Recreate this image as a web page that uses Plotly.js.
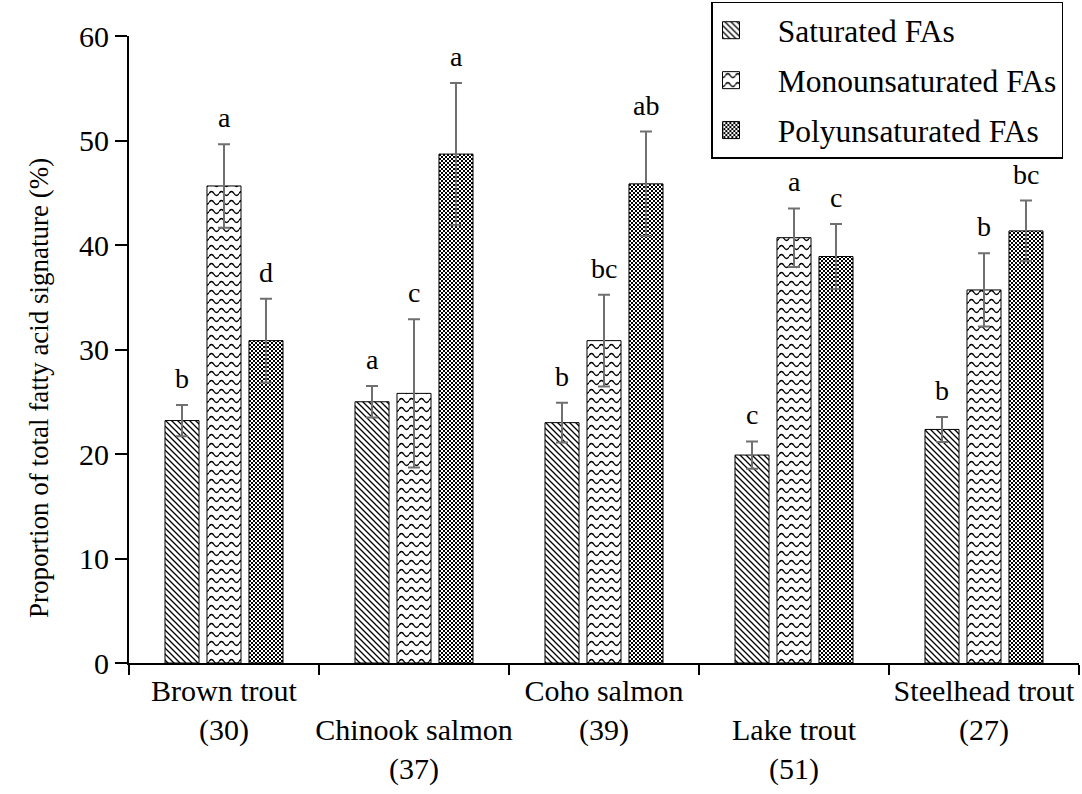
<!DOCTYPE html>
<html><head><meta charset="utf-8">
<script src="https://cdn.plot.ly/plotly-3.0.1.min.js"></script>
<style>body{margin:0;background:#fff}#c{width:1082px;height:794px}</style>
</head><body><div id="c"></div>
<script>
var categories = ["Brown trout", "Chinook salmon", "Coho salmon", "Lake trout", "Steelhead trout"];
var tickLabels = ["Brown trout<br>(30)", "<br>Chinook salmon<br>(37)", "Coho salmon<br>(39)", "<br>Lake trout<br>(51)", "Steelhead trout<br>(27)"];
var seriesNames = ["Saturated FAs", "Monounsaturated FAs", "Polyunsaturated FAs"];
var yTitle = "Proportion of total fatty acid signature (%)";
var saturated = [23.2, 25.0, 23.0, 19.9, 22.35];
var saturatedErr = [1.5, 1.5, 1.9, 1.3, 1.2];
var mono = [45.65, 25.8, 30.85, 40.7, 35.7];
var monoErr = [4.0, 7.1, 4.4, 2.8, 3.5];
var poly = [30.85, 48.7, 45.85, 38.9, 41.35];
var polyErr = [4.0, 6.8, 5.0, 3.1, 2.9];
var saturatedLetters = ["b", "a", "b", "c", "b"];
var monoLetters = ["a", "c", "bc", "a", "b"];
var polyLetters = ["d", "a", "ab", "c", "bc"];

var vals = [saturated, mono, poly];
var errs = [saturatedErr, monoErr, polyErr];
var letters = [saturatedLetters, monoLetters, polyLetters];
var shapes = ["\\", "-", "x"];

var font = "Liberation Serif, Times New Roman, serif";
var traces = vals.map(function (v, i) {
  return {
    type: "bar", name: seriesNames[i], x: categories, y: v, legendgroup: "g" + i,
    marker: {color: "#fff", line: {color: "#000", width: 1},
      pattern: {shape: shapes[i], fgcolor: "#000", bgcolor: "#fff", size: 6, solidity: 0.3}},
    error_y: {type: "data", array: errs[i], visible: true, color: "#707070", thickness: 2, width: 6}
  };
});

var annotations = [];
var step = 42;
for (var s = 0; s < 3; s++) {
  for (var k = 0; k < categories.length; k++) {
    annotations.push({x: categories[k], y: vals[s][k] + errs[s][k], xref: "x", yref: "y",
      text: letters[s][k], showarrow: false, xshift: (s - 1) * step, yanchor: "bottom", yshift: 9,
      font: {family: font, size: 28, color: "#000"}});
  }
}
annotations.push({x: -0.094, y: 0.438, xref: "paper", yref: "paper", text: yTitle, textangle: -90,
  showarrow: false, xanchor: "center", yanchor: "middle", font: {family: font, size: 27, color: "#000"}});

var layout = {
  width: 1082, height: 794,
  margin: {l: 129, r: 3, t: 35, b: 131},
  paper_bgcolor: "#fff", plot_bgcolor: "#fff",
  font: {family: font, size: 30, color: "#000"},
  barmode: "group", bargap: 0.337, bargroupgap: 0.19,
  showlegend: true,
  legend: {x: 0.613, y: 1.053, xanchor: "left", yanchor: "top", bordercolor: "#000", borderwidth: 1.5,
    bgcolor: "#fff", font: {family: font, size: 31.5}, tracegroupgap: 6, itemwidth: 55},
  xaxis: {type: "category", range: [-0.5, 4.5], tickmode: "array", tickvals: categories, ticktext: tickLabels,
    tickson: "boundaries", ticks: "outside", ticklen: 10, tickwidth: 2, tickcolor: "#000", tickangle: 0,
    showline: true, linecolor: "#000", linewidth: 2, showgrid: false, zeroline: false,
    tickfont: {family: font, size: 30}},
  yaxis: {range: [0, 60], tickvals: [0, 10, 20, 30, 40, 50, 60], ticks: "outside", ticklen: 12, tickwidth: 2,
    tickcolor: "#000", showline: true, linecolor: "#000", linewidth: 2, showgrid: false, zeroline: false,
    tickfont: {family: font, size: 30}},
  annotations: annotations
};

var customPatterns = [
  {w: 6, h: 6, html: '<rect width="6" height="6" fill="#fff"/><path d="M-1,-1L7,7M-1,5L1,7M5,-1L7,1" stroke="#000" stroke-width="1.3"/>'},
  {w: 10, h: 9, html: '<rect width="10" height="9" fill="#fff"/><path d="M0,4.5 Q2.5,0.5 5,4.5 T10,4.5" fill="none" stroke="#000" stroke-width="1.4"/>'},
  {w: 4, h: 4, html: '<rect width="4" height="4" fill="#fff"/><rect x="0" y="0" width="2" height="2" fill="#000"/><rect x="2" y="2" width="2" height="2" fill="#000"/>'}
];
function applyPattern(el, i) {
  if (!el) return;
  var st = el.getAttribute("style") || "";
  var m = st.match(/url\(["']?#([^"')]+)["']?\)/);
  if (!m) return;
  var p = document.getElementById(m[1]);
  if (!p) return;
  var cp = customPatterns[i];
  p.setAttribute("width", cp.w); p.setAttribute("height", cp.h);
  p.setAttribute("patternUnits", "userSpaceOnUse");
  p.removeAttribute("patternTransform");
  p.innerHTML = cp.html;
}
Plotly.newPlot("c", traces, layout, {staticPlot: true}).then(function (gd) {
  var groups = gd.querySelectorAll(".barlayer .trace");
  groups.forEach(function (g, i) {
    g.querySelectorAll(".point path").forEach(function (p) { applyPattern(p, i); });
  });
  var leg = gd.querySelectorAll(".legend .traces");
  leg.forEach(function (g, i) {
    g.querySelectorAll(".legendpoints path").forEach(function (p) {
      applyPattern(p, i);
      try {
        var bb = p.getBBox();
        var r = p.getBoundingClientRect();
        if (bb.width > 0) {
          var lcx = bb.x + bb.width / 2, lcy = bb.y + bb.height / 2;
          var scx = r.left + r.width / 2;
          var cx = lcx + (731 - scx), h = 8.5;
          p.setAttribute("d", "M" + (cx + h) + "," + (lcy + h) + "H" + (cx - h) + "V" + (lcy - h) + "H" + (cx + h) + "Z");
        }
      } catch (e) {}
    });
  });
});
</script></body></html>
